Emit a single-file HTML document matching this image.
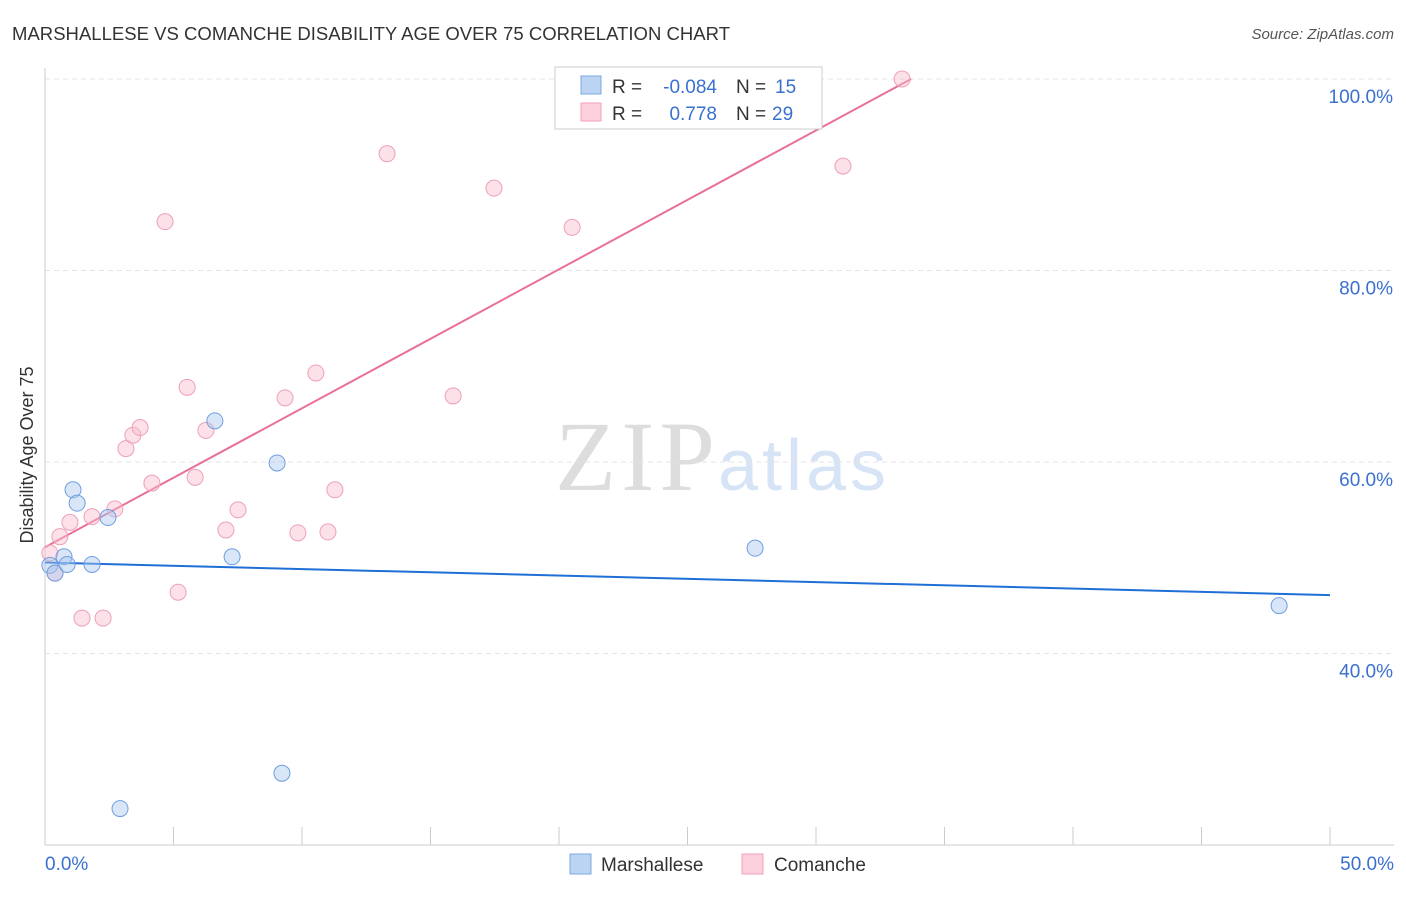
<!DOCTYPE html>
<html><head><meta charset="utf-8"><style>
body{margin:0;background:#fff;font-family:"Liberation Sans",sans-serif}
svg text{font-family:"Liberation Sans",sans-serif}
</style></head><body>
<svg id="c" width="1406" height="892">
<text x="12" y="40" font-size="18.5" fill="#333" textLength="718">MARSHALLESE VS COMANCHE DISABILITY AGE OVER 75 CORRELATION CHART</text>
<text x="1394" y="39" font-size="15" fill="#555" font-style="italic" text-anchor="end">Source: ZipAtlas.com</text>
<g><text x="555" y="490" font-size="100" fill="#ddd" style="font-family:'Liberation Serif',serif" textLength="160">ZIP</text><text x="718" y="490" font-size="72" fill="#d6e4f6" textLength="168">atlas</text></g>
<g id="grid"></g><g id="axes"></g><g id="lines"></g><g id="pts"></g>
<text x="33" y="455" font-size="18" fill="#333" transform="rotate(-90 33 455)" text-anchor="middle">Disability Age Over 75</text>
<text x="45" y="870" font-size="19" fill="#3a70d0">0.0%</text>
<text x="1394" y="870" font-size="19" fill="#3a70d0" text-anchor="end">50.0%</text>
<g>
<rect x="555" y="67" width="267" height="62" fill="#fff" stroke="#ccc"/>
<rect x="581" y="76" width="20" height="18" fill="#bcd4f4" stroke="#7aa8e0"/>
<rect x="581" y="103" width="20" height="18" fill="#fbcfdc" stroke="#f0a0b8"/>
<text x="612" y="93" font-size="19" fill="#333">R =</text>
<text x="717" y="93" font-size="19" fill="#3a70d0" text-anchor="end">-0.084</text>
<text x="736" y="93" font-size="19" fill="#333">N =</text>
<text x="775" y="93" font-size="19" fill="#3a70d0">15</text>
<text x="612" y="120" font-size="19" fill="#333">R =</text>
<text x="717" y="120" font-size="19" fill="#3a70d0" text-anchor="end">0.778</text>
<text x="736" y="120" font-size="19" fill="#333">N =</text>
<text x="772" y="120" font-size="19" fill="#3a70d0">29</text>
</g>
<g>
<rect x="570" y="854" width="21" height="20" fill="#bcd4f4" stroke="#7aa8e0"/>
<text x="601" y="871" font-size="19" fill="#333">Marshallese</text>
<rect x="742" y="854" width="21" height="20" fill="#fbcfdc" stroke="#f0a0b8"/>
<text x="774" y="871" font-size="19" fill="#333">Comanche</text>
</g>
</svg>
<script>
const blueX=[0.19,0.39,0.74,0.86,1.09,1.25,1.83,2.45,2.92,6.61,7.28,9.03,9.22,27.63,48.02];
const blueY=[49.2,48.4,50.1,49.3,57.1,55.7,49.3,54.2,23.8,64.3,50.1,59.9,27.5,51.0,45.0];
const pinkX=[0.19,0.39,0.58,0.97,1.44,1.83,2.26,2.72,3.15,3.42,3.70,4.16,4.67,5.18,5.53,5.84,6.26,7.04,7.51,9.34,9.84,10.54,11.01,11.28,13.31,15.88,17.47,20.51,31.05,33.35];
const pinkY=[50.5,48.4,52.2,53.7,43.7,54.3,43.7,55.1,61.4,62.8,63.6,57.8,85.1,46.4,67.8,58.4,63.3,52.9,55.0,66.7,52.6,69.3,52.7,57.1,92.2,66.9,88.6,84.5,90.9,100.0];
const blueLine=[0,49.5,50,46.1];
const pinkLine=[0,51.1,33.7,100];
const yTicks=[40,60,80,100];
const xTicks=[0,5,10,15,20,25,30,35,40,45,50];
const NS="http://www.w3.org/2000/svg";
const sx=v=>45+v/50*1285, sy=v=>79+(100-v)/20*191.5;
function mk(t,a,p){const e=document.createElementNS(NS,t);for(const k in a)e.setAttribute(k,a[k]);document.getElementById(p).appendChild(e);return e;}
yTicks.forEach(v=>{
 const g=mk('line',{x1:45,x2:1394,y1:sy(v),y2:sy(v),stroke:'#e4e4e4','stroke-dasharray':'5,4'},'grid');
 
 
 const t=mk('text',{x:1393,y:sy(v)+24,'font-size':19,fill:'#3a70d0','text-anchor':'end'},'grid');
 t.textContent=v.toFixed(1)+'%';
 
 
});
let ax=mk('line',{x1:45,x2:45,y1:68,y2:845,stroke:'#ccc'},'axes');


ax=mk('line',{x1:45,x2:1394,y1:845,y2:845,stroke:'#ccc'},'axes');


xTicks.forEach(v=>{
 const l=mk('line',{x1:sx(v),x2:sx(v),y1:827,y2:845,stroke:'#ccc'},'axes');
 
 
});
function pts(X,Y,f,s,n){X.forEach((x,i)=>{
 const c=mk('circle',{cx:sx(x),cy:sy(Y[i]),r:8,fill:f,'fill-opacity':0.45,stroke:s,'stroke-width':1},'pts');
 
 
});}
pts(pinkX,pinkY,'#f8bccd','#eea0b8','comanche-point');
pts(blueX,blueY,'#a8c8f0','#6f9ee0','marshallese-point');
let ln=mk('line',{x1:sx(blueLine[0]),y1:sy(blueLine[1]),x2:sx(blueLine[2]),y2:sy(blueLine[3]),stroke:'#1f6fd6','stroke-width':2},'lines');


ln=mk('line',{x1:sx(pinkLine[0]),y1:sy(pinkLine[1]),x2:sx(pinkLine[2]),y2:sy(pinkLine[3]),stroke:'#e8709a','stroke-width':2},'lines');


</script>
</body></html>
